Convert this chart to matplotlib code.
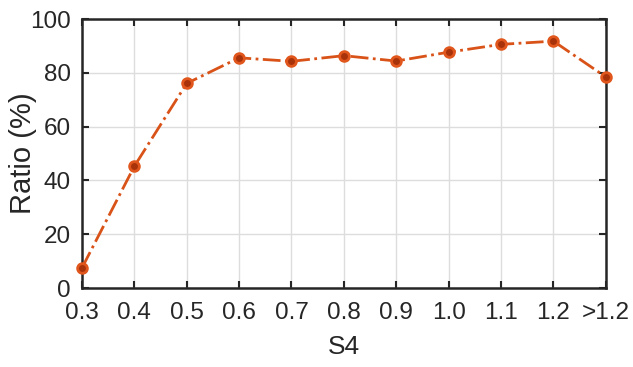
import matplotlib.pyplot as plt
import numpy as np

plt.rcParams['font.family'] = ['Liberation Sans', 'DejaVu Sans']

labels = ['0.3', '0.4', '0.5', '0.6', '0.7', '0.8', '0.9', '1.0', '1.1', '1.2', '>1.2']
ratio = [7.5, 45.3, 76.1, 85.6, 84.3, 86.4, 84.4, 87.7, 90.6, 91.8, 78.5]

fig = plt.figure(figsize=(6.33, 3.67), dpi=100)
ax = fig.add_axes([0.1295, 0.215, 0.8275, 0.733])

x = np.arange(len(labels))
ax.plot(x, ratio, '-.', color='#D95319', lw=2, marker='o', ms=7,
        mfc='#A8320A', mec='#E0561C', mew=2, clip_on=False, zorder=3)

ax.set_xlim(0, len(labels) - 1)
ax.set_ylim(0, 100)
ax.set_xticks(x)
ax.set_xticklabels(labels)
ax.set_yticks(np.arange(0, 101, 20))
ax.grid(True, color='#DDDDDD', lw=1)
ax.set_axisbelow(True)
ax.tick_params(direction='in', top=True, right=True, length=5, width=1.5,
               labelsize=17.5, colors='#262626')
ax.tick_params(axis='x', pad=10)
ax.tick_params(axis='y', pad=8)
for s in ax.spines.values():
    s.set_linewidth(1.8)
    s.set_color('#262626')
ax.set_xlabel('S4', fontsize=19, color='#262626')
ax.set_ylabel('Ratio (%)', fontsize=21, color='#262626')
ax.xaxis.set_label_coords(0.5, -0.175)
ax.yaxis.set_label_coords(-0.085, 0.5)

fig.savefig('out.png', dpi=100)
